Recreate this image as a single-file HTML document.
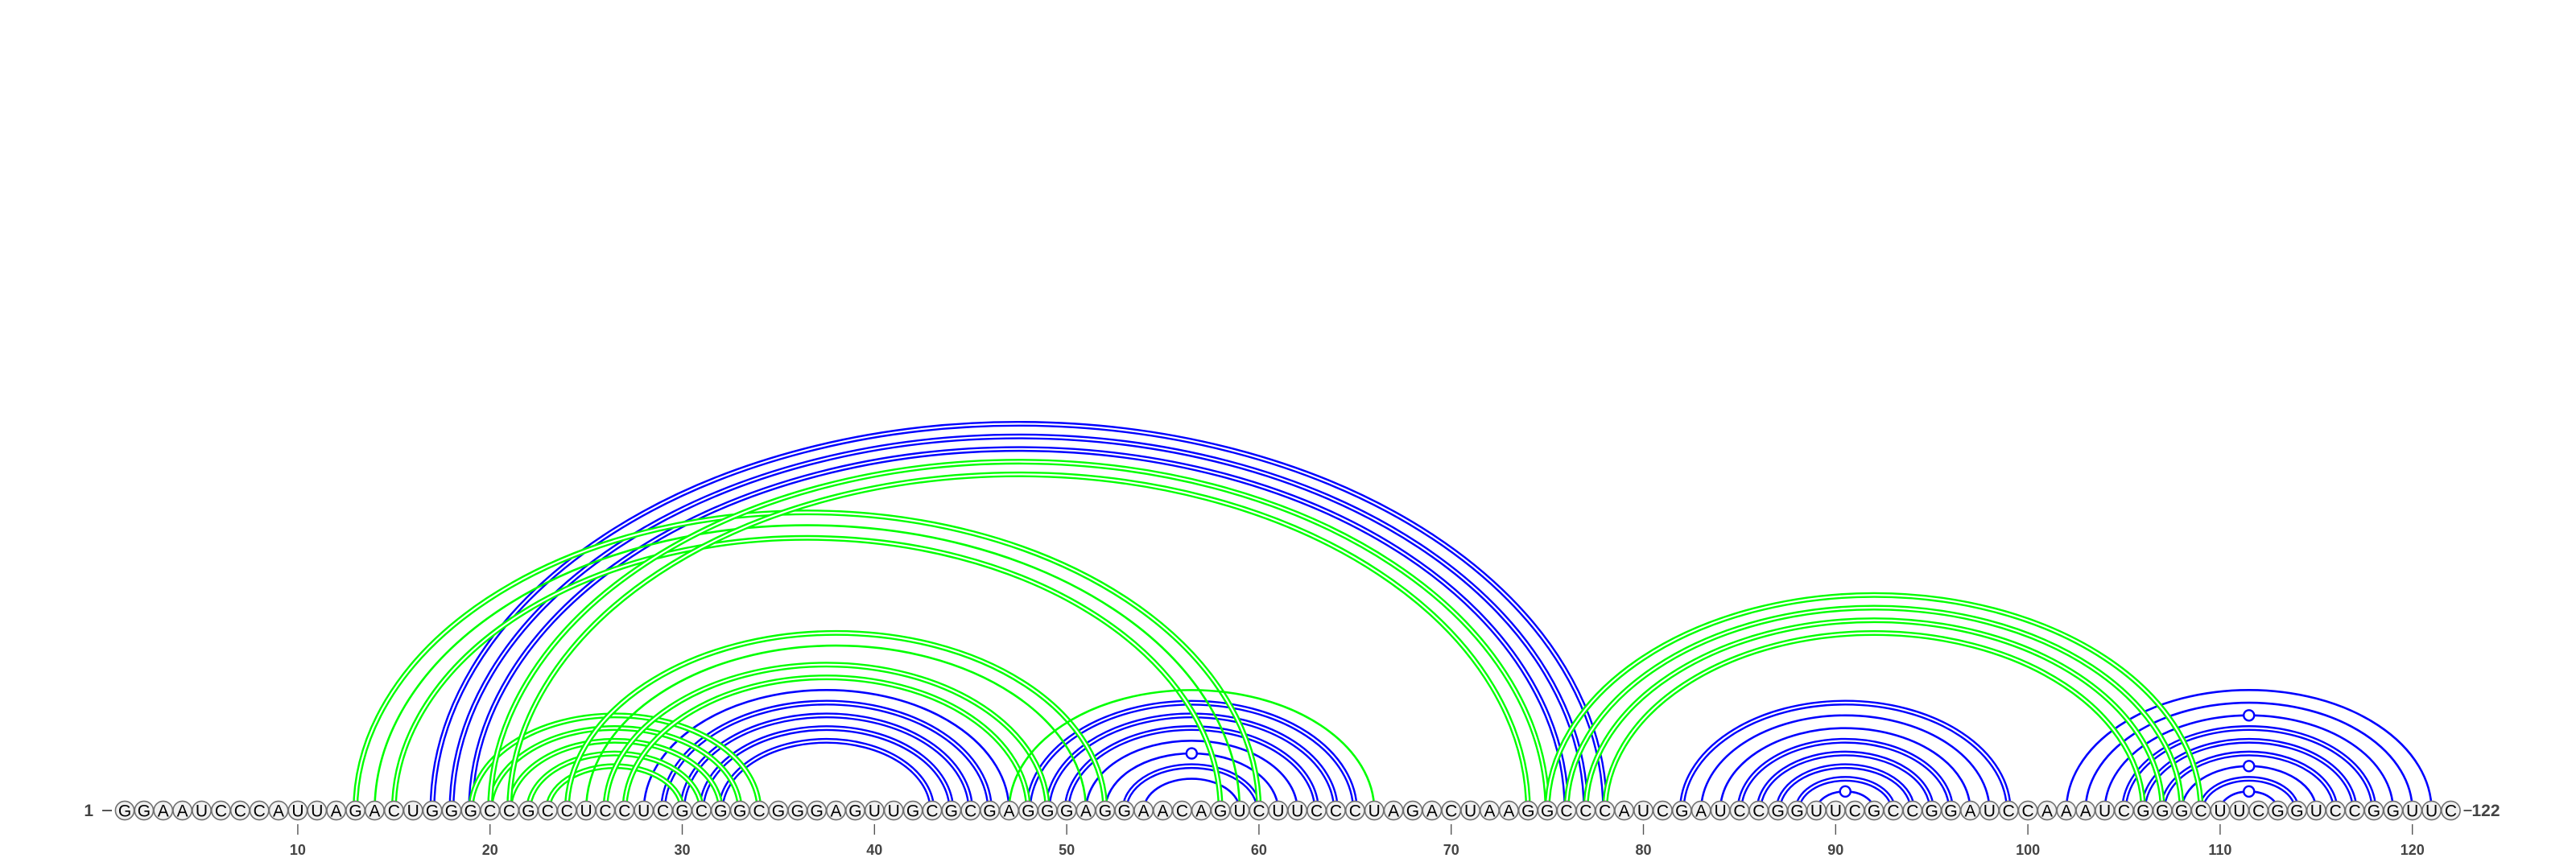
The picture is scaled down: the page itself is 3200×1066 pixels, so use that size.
<!DOCTYPE html>
<html><head><meta charset="utf-8"><style>
html,body{margin:0;padding:0;background:#fff;}
svg{display:block;}
text{font-family:"Liberation Sans",sans-serif;}
</style></head><body>
<svg id="chart" width="3200" height="1066" viewBox="0 0 3200 1066" xmlns="http://www.w3.org/2000/svg">
<rect width="3200" height="1066" fill="#fff"/>
<g id="arcs-blue"></g>
<g id="arcs-green"></g>
<g id="bases"></g>
<g id="axis"></g>
</svg>
<script>
const sequence = "GGAAUCCCAUUAGACUGGGCCGCCUCCUCGCGGCGGGAGUUGCGCGAGGGAGGAACAGUCUUCCCUAGACUAAGGCCCAUCGAUCCGGUUCGCCGGAUCCAAAUCGGGCUUCGGUCCGGUUC";
const bluePairs = [[17,78],[18,77],[19,76],[28,47],[29,46],[30,45],[31,44],[32,43],
  [48,65],[49,64],[50,63],[51,62],[52,61],[53,60],[54,59],
  [82,99],[83,98],[84,97],[85,96],[86,95],[87,94],[88,93],[89,92],
  [102,121],[103,120],[104,119],[105,118],[106,117],[107,116],[108,115],[109,114],[110,113]];
const greenPairs = [[13,60],[14,59],[15,58],[19,34],[20,33],[21,32],[22,31],[23,30],
  [24,52],[25,51],[26,49],[27,48],[47,66],[20,75],[21,74],
  [75,109],[76,108],[77,107],[78,106]];
const tickValues = [10,20,30,40,50,60,70,80,90,100,110,120];

const NS = "http://www.w3.org/2000/svg";
const X0 = 155, DX = 23.88, YB = 1007, RATIO = 0.66;
function xPos(i){ return X0 + (i-1)*DX; }
function mk(tag, attrs, parent){ const e=document.createElementNS(NS,tag); for(const k in attrs) e.setAttribute(k,attrs[k]); parent.appendChild(e); return e; }
function pairType(i,j){
  const p = sequence[i-1]+sequence[j-1];
  if (p==="GC"||p==="CG") return "gc";
  if (p==="GU"||p==="UG") return "gu";
  return "au";
}
function drawArcs(pairs, color, gId, label){
  const g = document.getElementById(gId);
  pairs.forEach(([i,j])=>{
    const x1=xPos(i), x2=xPos(j), rx=(x2-x1)/2, ry=rx*RATIO;
    const d = `M${x1},${YB} A${rx},${ry} 0 0 1 ${x2},${YB}`;
    const t = pairType(i,j);
    const grp = mk("g",{},g);
    
    
    if (t==="gc"){
      mk("path",{d:d,fill:"none",stroke:color,"stroke-width":7},grp);
      mk("path",{d:d,fill:"none",stroke:"#fff","stroke-width":2.2},grp);
    } else {
      mk("path",{d:d,fill:"none",stroke:color,"stroke-width":2.6},grp);
      if (t==="gu"){
        const c = mk("circle",{cx:(x1+x2)/2,cy:YB-ry,r:6.5,fill:"#fff",stroke:color,"stroke-width":2.4},grp);
        
        
      }
    }
  });
}
drawArcs(bluePairs,"#0000ff","arcs-blue","blue");
drawArcs(greenPairs,"#00ff00","arcs-green","green");

const bases = document.getElementById("bases");
for (let i=1;i<=sequence.length;i++){
  const x = xPos(i);
  const c = mk("ellipse",{cx:x,cy:YB,rx:11.6,ry:11.6,fill:"#f1f1f1",stroke:"#707070","stroke-width":1.6},bases);
  
  
  const t = mk("text",{x:x,y:YB+7.5,"text-anchor":"middle","font-size":21,fill:"#000"},bases);
  t.textContent = sequence[i-1];
  
  
}
const axis = document.getElementById("axis");
const st = mk("text",{x:116,y:1014,"text-anchor":"end","font-size":21,"font-weight":"bold",fill:"#444"},axis);
st.textContent = "1";


mk("line",{x1:127,y1:1007,x2:139,y2:1007,stroke:"#444","stroke-width":1.8},axis);
const xe = xPos(sequence.length);
mk("line",{x1:xe+16,y1:1007,x2:xe+26,y2:1007,stroke:"#444","stroke-width":1.8},axis);
const en = mk("text",{x:xe+26,y:1014,"text-anchor":"start","font-size":21,"font-weight":"bold",fill:"#444"},axis);
en.textContent = String(sequence.length);


tickValues.forEach(v=>{
  const x = xPos(v);
  const l = mk("line",{x1:x,y1:1024,x2:x,y2:1037,stroke:"#555","stroke-width":1.4},axis);
  
  
  const t = mk("text",{x:x,y:1062,"text-anchor":"middle","font-size":18,"font-weight":"bold",fill:"#444"},axis);
  t.textContent = String(v);
  
  
});
</script>
</body></html>
